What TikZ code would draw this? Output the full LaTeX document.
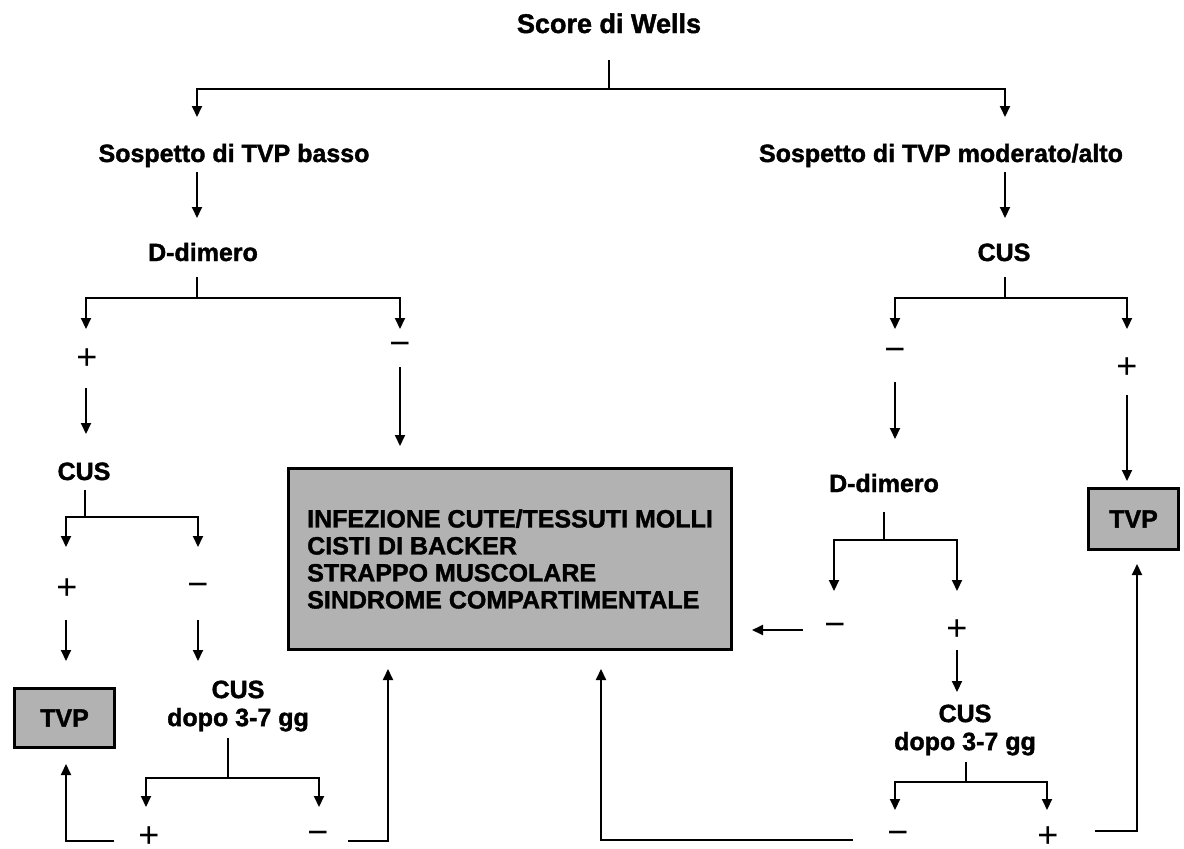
\documentclass[tikz,border=0pt]{standalone}
\usepackage{fontspec}
\setmainfont{Liberation Sans}[BoldFeatures={FakeBold=1.5}]
\usetikzlibrary{arrows.meta}
\definecolor{boxgray}{RGB}{178,178,178}
\begin{document}
\begin{tikzpicture}[x=1pt,y=-1pt,
  lbl/.style={font=\fontsize{25}{28}\selectfont\bfseries, inner sep=0pt, anchor=base},
  twoline/.style={font=\fontsize{25}{28}\selectfont\bfseries, inner sep=0pt, align=center},
  sign/.style={font=\fontsize{36}{36}\selectfont, inner sep=0pt},
  conn/.style={line width=2pt},
  arr/.style={conn, -{Triangle[length=11pt,width=10pt]}},
  greybox/.style={draw, line width=3pt, fill=boxgray, inner sep=0pt,
    font=\fontsize{25}{27}\selectfont\bfseries, align=left}
]
\useasboundingbox[fill=white] (0,0) rectangle (1184,849);

% ---------- labels ----------
\node[lbl, font=\fontsize{27}{30}\selectfont\bfseries] (title) at (609,33) {Score di Wells};
\node[lbl] (sosB) at (234,162) {Sospetto di TVP basso};
\node[lbl] (sosM) at (941,162) {Sospetto di TVP moderato/alto};
\node[lbl] (ddL)  at (203,261) {D-dimero};
\node[lbl] (cusR) at (1004,261) {CUS};
\node[lbl] (cusL) at (84,480) {CUS};
\node[lbl] (ddR)  at (884,492) {D-dimero};
\node[twoline] (cdL) at (238,706) {CUS\\dopo 3-7 gg};
\node[twoline] (cdR) at (965,730) {CUS\\dopo 3-7 gg};

% ---------- boxes ----------
\node[greybox, minimum width=443pt, minimum height=181pt] (diff) at (510,559)
  {INFEZIONE CUTE/TESSUTI MOLLI\\CISTI DI BACKER\\STRAPPO MUSCOLARE\\SINDROME COMPARTIMENTALE};
\node[greybox, align=center, minimum width=100pt, minimum height=59pt] (tvpL) at (64.5,718) {TVP};
\node[greybox, align=center, minimum width=90pt, minimum height=61pt] (tvpR) at (1133.5,519) {TVP};

% ---------- signs ----------
\node[sign] (pA) at (87,359) {+};
\node[sign] (mA) at (400,349) {−};
\node[sign] (mB) at (895,355) {−};
\node[sign] (pB) at (1127,368) {+};
\node[sign] (pC) at (67,589) {+};
\node[sign] (mC) at (198,590) {−};
\node[sign] (pD) at (149,837) {+};
\node[sign] (mD) at (318,838) {−};
\node[sign] (mE) at (835,630) {−};
\node[sign] (pE) at (957,630) {+};
\node[sign] (mF) at (898,838) {−};
\node[sign] (pF) at (1048,837) {+};

% ---------- connector points ----------
\coordinate (w0) at (609,60);   \coordinate (wJ) at (609,89);
\coordinate (sBin) at (197,117); \coordinate (sMin) at (1005,117);
\coordinate (sBout) at (197,172); \coordinate (ddLin) at (197,218);
\coordinate (sMout) at (1005,172); \coordinate (cRin) at (1005,218);

\coordinate (ddL0) at (197,277); \coordinate (ddLJ) at (197,298);
\coordinate (pAin) at (86,329);  \coordinate (mAin) at (400,329);
\coordinate (cR0) at (1005,277); \coordinate (cRJ) at (1005,298);
\coordinate (mBin) at (895,329); \coordinate (pBin) at (1127,329);

\coordinate (pAout) at (86,388);  \coordinate (cLin) at (86,434);
\coordinate (mAout) at (400,367); \coordinate (diffT) at (400,446);
\coordinate (mBout) at (895,382); \coordinate (ddRin) at (895,439);
\coordinate (pBout) at (1127,395); \coordinate (tvpRT) at (1127,481);

\coordinate (cL0) at (85,490); \coordinate (cLJ) at (85,517);
\coordinate (pCin) at (66,547); \coordinate (mCin) at (198,547);
\coordinate (pCout) at (66,620); \coordinate (tvpLT) at (66,661);
\coordinate (mCout) at (198,620); \coordinate (cdLin) at (198,661);

\coordinate (cdL0) at (228,738); \coordinate (cdLJ) at (228,778);
\coordinate (pDin) at (146,807); \coordinate (mDin) at (319,807);
\coordinate (pDout) at (114,841); \coordinate (tvpLB) at (66,764);
\coordinate (mDout) at (348,841); \coordinate (diffB1) at (388,669);

\coordinate (ddR0) at (884,512); \coordinate (ddRJ) at (884,540);
\coordinate (mEin) at (834,591); \coordinate (pEin) at (957,591);
\coordinate (mEout) at (803,630); \coordinate (diffR) at (752,630);
\coordinate (pEout) at (957,650); \coordinate (cdRin) at (957,692);

\coordinate (cdR0) at (966,762); \coordinate (cdRJ) at (966,782);
\coordinate (mFin) at (895,810); \coordinate (pFin) at (1047,810);
\coordinate (mFout) at (853,840); \coordinate (diffB2) at (601,669);
\coordinate (pFout) at (1095,831); \coordinate (tvpRB) at (1137,564);

% ---------- connectors ----------
\draw[arr] (w0) -- (wJ) -| (sBin);
\draw[arr] (wJ) -| (sMin);
\draw[arr] (sBout) -- (ddLin);
\draw[arr] (sMout) -- (cRin);

\draw[arr] (ddL0) -- (ddLJ) -| (pAin);
\draw[arr] (ddLJ) -| (mAin);
\draw[arr] (cR0) -- (cRJ) -| (mBin);
\draw[arr] (cRJ) -| (pBin);

\draw[arr] (pAout) -- (cLin);
\draw[arr] (mAout) -- (diffT);
\draw[arr] (mBout) -- (ddRin);
\draw[arr] (pBout) -- (tvpRT);

\draw[arr] (cL0) -- (cLJ) -| (pCin);
\draw[arr] (cLJ) -| (mCin);
\draw[arr] (pCout) -- (tvpLT);
\draw[arr] (mCout) -- (cdLin);

\draw[arr] (cdL0) -- (cdLJ) -| (pDin);
\draw[arr] (cdLJ) -| (mDin);
\draw[arr] (pDout) -| (tvpLB);
\draw[arr] (mDout) -| (diffB1);

\draw[arr] (ddR0) -- (ddRJ) -| (mEin);
\draw[arr] (ddRJ) -| (pEin);
\draw[arr] (mEout) -- (diffR);
\draw[arr] (pEout) -- (cdRin);

\draw[arr] (cdR0) -- (cdRJ) -| (mFin);
\draw[arr] (cdRJ) -| (pFin);
\draw[arr] (mFout) -| (diffB2);
\draw[arr] (pFout) -| (tvpRB);
\end{tikzpicture}
\end{document}
